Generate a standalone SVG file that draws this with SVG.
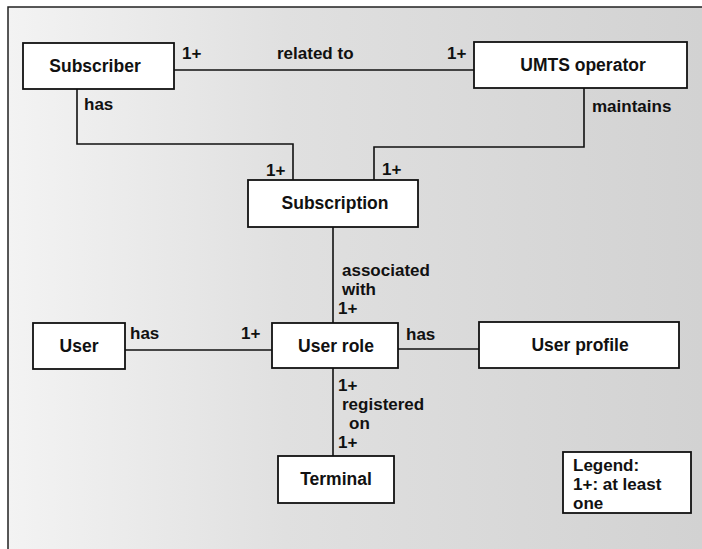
<svg xmlns="http://www.w3.org/2000/svg" width="702" height="549" viewBox="0 0 702 549">
<defs>
<linearGradient id="bg" x1="0" y1="0" x2="1" y2="0">
<stop offset="0" stop-color="#f3f3f3"/>
<stop offset="0.4" stop-color="#e0e0e0"/>
<stop offset="1" stop-color="#d2d2d2"/>
</linearGradient>
<style>
.box{fill:#ffffff;stroke:#111;stroke-width:1.8}
.ln{fill:none;stroke:#111;stroke-width:1.6}
text{font-family:"Liberation Sans",Arial,sans-serif;font-weight:700;font-size:17.5px;fill:#111}
.c{text-anchor:middle}
.s{font-size:17px}
</style>
</defs>
<rect x="0" y="0" width="702" height="549" fill="#ffffff"/>
<rect x="8" y="7" width="694" height="542" fill="url(#bg)"/>
<path d="M8,549 V7 H702" fill="none" stroke="#222" stroke-width="1.5"/>

<g id="connectors">
<path class="ln" d="M174,70 H474"/>
<path class="ln" d="M77,89 V144 H293 V180"/>
<path class="ln" d="M584,88 V147 H374 V180"/>
<path class="ln" d="M333,227 V323"/>
<path class="ln" d="M125,350 H272"/>
<path class="ln" d="M398,349 H479"/>
<path class="ln" d="M333,368 V456"/>
<text class="s" x="182" y="59">1+</text>
<text class="s" x="277" y="59">related to</text>
<text class="s" x="447" y="59">1+</text>
<text class="s" x="84" y="110">has</text>
<text class="s" x="592" y="112">maintains</text>
<text class="s" x="266" y="176">1+</text>
<text class="s" x="382" y="175">1+</text>
<text class="s" x="342" y="276">associated</text>
<text class="s" x="342" y="295">with</text>
<text class="s" x="338" y="314">1+</text>
<text class="s" x="130" y="339">has</text>
<text class="s" x="241" y="339">1+</text>
<text class="s" x="406" y="340">has</text>
<text class="s" x="338" y="391">1+</text>
<text class="s" x="342" y="410">registered</text>
<text class="s" x="349" y="429">on</text>
<text class="s" x="338" y="448">1+</text>
</g>

<g id="subscriber"><rect class="box" x="23" y="43" width="151" height="46"/><text class="c" x="95" y="72">Subscriber</text></g>
<g id="umts-operator"><rect class="box" x="474" y="42" width="213" height="46"/><text class="c" x="583" y="71">UMTS operator</text></g>
<g id="subscription"><rect class="box" x="248" y="180" width="170" height="47"/><text class="c" x="335" y="209">Subscription</text></g>
<g id="user"><rect class="box" x="33" y="323" width="92" height="46"/><text class="c" x="79" y="352">User</text></g>
<g id="user-role"><rect class="box" x="272" y="323" width="126" height="45"/><text class="c" x="336" y="352">User role</text></g>
<g id="user-profile"><rect class="box" x="479" y="322" width="200" height="46"/><text class="c" x="580" y="351">User profile</text></g>
<g id="terminal"><rect class="box" x="278" y="456" width="116" height="47"/><text class="c" x="336" y="485">Terminal</text></g>
<g id="legend"><rect class="box" x="563" y="452" width="128" height="61"/>
<text class="s" x="573" y="471">Legend:</text>
<text class="s" x="573" y="490">1+: at least</text>
<text class="s" x="573" y="509">one</text></g>
</svg>
